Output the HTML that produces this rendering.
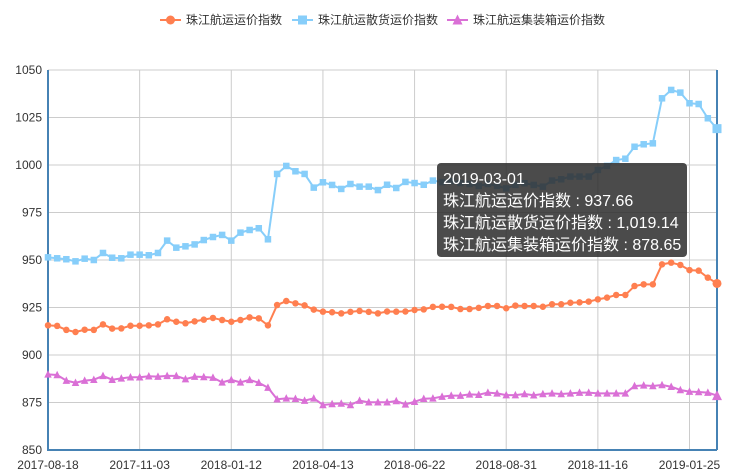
<!DOCTYPE html>
<html><head><meta charset="utf-8"><style>
html,body{margin:0;padding:0;background:#fff;}
#wrap{position:relative;width:743px;height:476px;overflow:hidden;font-family:"Liberation Sans","Noto Sans CJK SC",sans-serif;}
svg text{font-family:"Liberation Sans","Noto Sans CJK SC",sans-serif;}
#tooltip{position:absolute;left:437px;top:163px;width:250px;height:94px;background:rgba(45,45,45,0.86);border-radius:4px;color:#fff;font-size:16px;line-height:22px;padding:6px 0 0 6px;box-sizing:border-box;white-space:nowrap;}
</style></head><body>
<div id="wrap">
<svg id="chart" width="743" height="476"></svg>
<div id="tooltip">
<div>2019-03-01</div>
<div>珠江航运运价指数 : 937.66</div>
<div>珠江航运散货运价指数 : 1,019.14</div>
<div>珠江航运集装箱运价指数 : 878.65</div>
</div>
</div>
<script>
const categories=["2017-08-18","2017-08-25","2017-09-01","2017-09-08","2017-09-15","2017-09-22","2017-09-29","2017-10-13","2017-10-20","2017-10-27",
"2017-11-03","2017-11-10","2017-11-17","2017-11-24","2017-12-01","2017-12-08","2017-12-15","2017-12-22","2017-12-29","2018-01-05",
"2018-01-12","2018-01-19","2018-01-26","2018-02-02","2018-02-09","2018-03-02","2018-03-09","2018-03-16","2018-03-23","2018-03-30",
"2018-04-13","2018-04-20","2018-04-27","2018-05-04","2018-05-11","2018-05-18","2018-05-25","2018-06-01","2018-06-08","2018-06-15",
"2018-06-22","2018-06-29","2018-07-06","2018-07-13","2018-07-20","2018-07-27","2018-08-03","2018-08-10","2018-08-17","2018-08-24",
"2018-08-31","2018-09-07","2018-09-14","2018-09-21","2018-09-28","2018-10-12","2018-10-19","2018-10-26","2018-11-02","2018-11-09",
"2018-11-16","2018-11-23","2018-11-30","2018-12-07","2018-12-14","2018-12-21","2018-12-28","2019-01-04","2019-01-11","2019-01-18",
"2019-01-25","2019-02-01","2019-02-22","2019-03-01"];
const freightIndex=[915.6,915.3,913.2,912.1,913.3,913.2,916.1,913.9,914.0,915.4,
915.4,915.6,916.1,918.8,917.5,916.7,917.7,918.6,919.5,918.4,
917.5,918.4,919.8,919.3,915.6,926.3,928.4,927.2,926.1,923.9,
922.8,922.5,921.9,922.7,923.2,922.7,921.9,922.9,922.8,922.9,
923.7,924.0,925.3,925.4,925.3,924.2,924.2,924.8,925.8,925.8,
924.6,926.0,925.8,925.8,925.4,926.7,926.7,927.5,927.7,928.1,
929.3,930.2,931.6,931.6,936.3,937.2,937.2,947.7,948.6,947.4,
944.7,944.4,940.7,937.66];
const bulkIndex=[951.4,950.9,950.4,949.3,950.7,950.0,953.7,951.2,950.9,952.8,
952.8,952.5,953.7,960.2,956.5,957.2,958.2,960.5,962.1,963.2,
960.2,964.4,965.8,966.7,960.9,995.3,999.5,996.7,995.3,988.1,
990.9,989.5,987.4,990.0,988.6,988.6,986.8,989.6,987.9,991.1,
990.5,989.6,991.8,991.0,991.5,990.5,990.0,989.0,990.0,989.0,
987.7,989.5,990.4,989.5,988.6,991.8,992.5,993.9,993.9,993.9,
997.4,999.5,1002.6,1003.3,1009.6,1010.9,1011.4,1035.1,1039.5,1038.1,
1032.5,1032.1,1024.6,1019.14];
const containerIndex=[889.8,889.5,886.5,885.4,886.5,887.0,889.0,887.0,887.7,888.3,
888.3,888.8,888.6,889.0,889.0,887.3,888.6,888.4,888.1,885.6,
886.9,885.6,886.9,885.4,882.8,876.7,877.2,877.0,876.0,877.2,
873.7,874.2,874.5,873.7,876.0,875.1,875.1,875.1,875.8,874.0,
875.4,877.0,877.2,878.1,878.6,878.6,879.3,879.1,880.2,879.8,
878.9,878.9,879.5,878.8,879.5,879.8,879.5,879.8,880.2,880.2,
879.8,879.8,879.8,879.8,883.7,884.0,883.7,884.2,883.3,881.6,
880.7,880.5,880.2,878.65];
const yTicks=[850,875,900,925,950,975,1000,1025,1050];
const xLabelIdx=[0,10,20,30,40,50,60,70];
const seriesNames=["珠江航运运价指数","珠江航运散货运价指数","珠江航运集装箱运价指数"];

const NS="http://www.w3.org/2000/svg";
const svg=document.getElementById('chart');
const X0=48,X1=717,Y0=70,Y1=450,VMIN=850,VMAX=1050;
function xs(i){return X0+i*(X1-X0)/(categories.length-1);}
function ys(v){return Y1-(v-VMIN)*(Y1-Y0)/(VMAX-VMIN);}
function mk(tag,attrs,parent){const e=document.createElementNS(NS,tag);for(const k in attrs)e.setAttribute(k,attrs[k]);(parent||svg).appendChild(e);return e;}

const grid=mk('g',{});


yTicks.forEach(t=>{
  const l=mk('line',{x1:X0,x2:X1,y1:ys(t),y2:ys(t),stroke:'#ccc','stroke-width':1},grid);
  
  
  const tx=mk('text',{x:42,y:ys(t)+4,'text-anchor':'end','font-size':12,fill:'#333'},grid);
  
  
  tx.textContent=t;
});
xLabelIdx.forEach(i=>{
  const l=mk('line',{x1:xs(i),x2:xs(i),y1:Y0,y2:Y1,stroke:'#ccc','stroke-width':1},grid);
  
  
  const tx=mk('text',{x:xs(i),y:469,'text-anchor':'middle','font-size':12,fill:'#333'},grid);
  
  
  tx.textContent=categories[i];
});
const xa=mk('line',{x1:X0,x2:X1,y1:Y1,y2:Y1,stroke:'#4682b4','stroke-width':2});


const ya=mk('line',{x1:X0,x2:X0,y1:Y0,y2:Y1+1,stroke:'#4682b4','stroke-width':2});


const ap=mk('line',{x1:xs(categories.length-1),x2:xs(categories.length-1),y1:Y0,y2:Y1,stroke:'#4682b4','stroke-width':2});



function marker(g,type,x,y,s,color){
  let e;
  if(type==='circle'){e=mk('circle',{cx:x,cy:y,r:s/2,fill:color},g);}
  else if(type==='rect'){e=mk('rect',{x:x-s/2,y:y-s/2,width:s,height:s,fill:color},g);}
  else{e=mk('polygon',{points:`${x},${y-s/2-1} ${x-s/2-0.5},${y+s/2} ${x+s/2+0.5},${y+s/2}`,fill:color},g);}
  return e;
}
const series=[
  {data:freightIndex,color:'#ff7f50',type:'circle',name:'freight'},
  {data:bulkIndex,color:'#87cefa',type:'rect',name:'bulk'},
  {data:containerIndex,color:'#da70d6',type:'triangle',name:'container'}
];
series.forEach(s=>{
  const g=mk('g',{});
  
  
  const p=mk('polyline',{points:s.data.map((v,i)=>xs(i)+','+ys(v)).join(' '),fill:'none',stroke:s.color,'stroke-width':2,'stroke-linejoin':'round'},g);
  
  
  s.data.forEach((v,i)=>{
    const last=i===s.data.length-1;
    const m=marker(g,s.type,xs(i),ys(v),last?9:6.5,s.color);
    
    
  });
});
const lg=mk('g',{});


const legendX=[160,292,447];
series.forEach((s,k)=>{
  const g=mk('g',{},lg);
  
  
  mk('line',{x1:legendX[k],x2:legendX[k]+21,y1:20,y2:20,stroke:s.color,'stroke-width':2},g);
  marker(g,s.type,legendX[k]+10.5,20,9,s.color);
  const t=mk('text',{x:legendX[k]+26,y:24,'font-size':12,fill:'#333'},g);
  t.textContent=seriesNames[k];
});
</script>
</body></html>
